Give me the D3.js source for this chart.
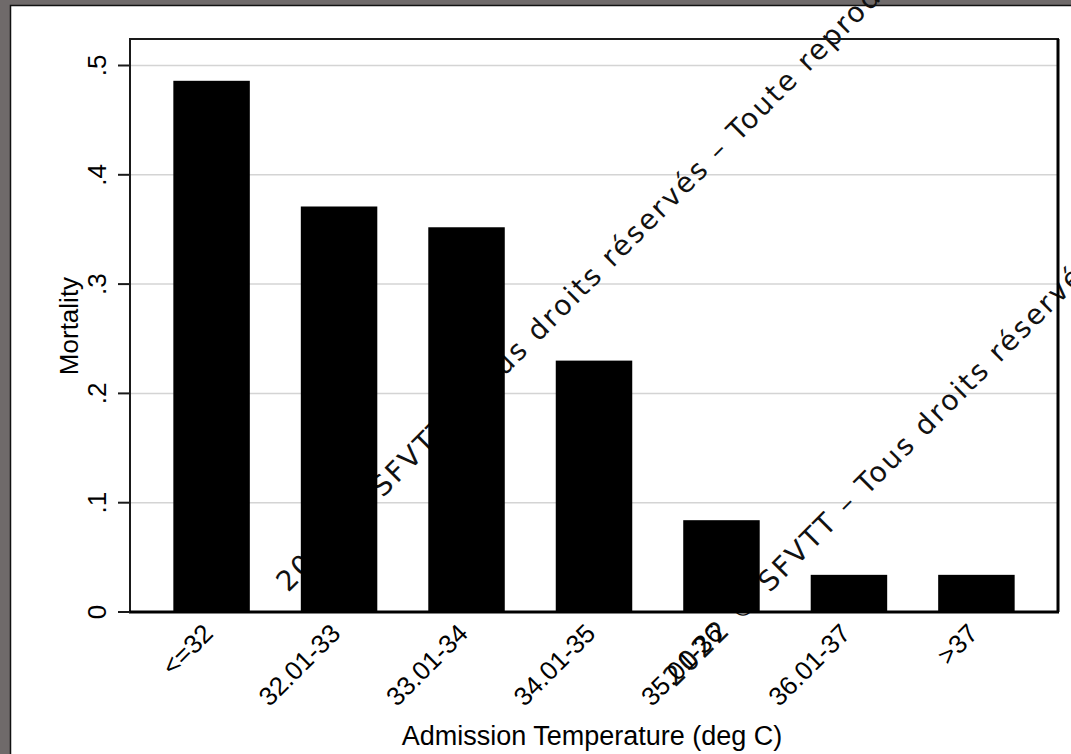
<!DOCTYPE html>
<html>
<head>
<meta charset="utf-8">
<script src="https://cdn.jsdelivr.net/npm/d3@7"></script>
<style>
  body { margin: 0; background: #fff; }
  svg { display: block; }
</style>
</head>
<body>
<svg id="chart" width="1071" height="754"></svg>
<script>
// data
const categories = ["<=32", "32.01-33", "33.01-34", "34.01-35", "35.01-36", "36.01-37", ">37"];
const mortality = [0.486, 0.371, 0.352, 0.230, 0.084, 0.034, 0.034];
const yTicks = [0, 0.1, 0.2, 0.3, 0.4, 0.5];
const yTickLabels = ["0", ".1", ".2", ".3", ".4", ".5"];
const watermark = "2022 \u00A9 SFVTT \u2013 Tous droits r\u00E9serv\u00E9s \u2013 Toute reproduction interdite";

const width = 1071, height = 754,
  margin = {top: 39, right: 13, bottom: 142, left: 130},
  plotW = width - margin.left - margin.right,
  plotH = height - margin.top - margin.bottom;

const svg = d3.select('#chart');

// outer grey frame, only top and left show in the crop
svg.append('rect')
  .attr('width', width).attr('height', height)
  .style('fill', '#6f6a6a');
svg.append('rect')
  .attr('x', 10.5).attr('y', 5.5)
  .attr('width', width + 10).attr('height', height + 10)
  .style('fill', '#fff')
  .style('stroke', '#111')
  .style('stroke-width', 1.5);

const g = svg.append('g')
  .attr('transform', 'translate(' + margin.left + ',' + margin.top + ')');

const xScale = d3.scaleBand()
  .domain(categories)
  .range([0, plotW])
  .paddingInner(0.4)
  .paddingOuter(0.34);

const yScale = d3.scaleLinear()
  .domain([0, 0.5])
  .range([plotH, 26.5]);

// gridlines
g.selectAll('.grid')
  .data(yTicks.filter(d => d > 0))
  .enter()
  .append('line')
    .attr('x1', 0).attr('x2', plotW)
    .attr('y1', d => yScale(d)).attr('y2', d => yScale(d))
    .style('stroke', '#d4d4d4')
    .style('stroke-width', 1.5);

// watermark lines, drawn before the bars so the bars hide parts of them
const wm = [[288, 593], [675, 688]];
g.append('g')
  .attr('transform', 'translate(' + (-margin.left) + ',' + (-margin.top) + ')')
  .selectAll('text')
  .data(wm)
  .enter()
  .append('text')
    .attr('transform', d => 'translate(' + d[0] + ',' + d[1] + ') rotate(-45)')
    .attr('font-family', 'DejaVu Sans')
    .attr('font-size', 28)
    .attr('letter-spacing', 2.4)
    .style('fill', '#111')
    .text(watermark);

// bars
g.selectAll('.bar')
  .data(mortality)
  .enter()
  .append('rect')
    .attr('x', (d, i) => xScale(categories[i]))
    .attr('y', d => yScale(d))
    .attr('width', xScale.bandwidth())
    .attr('height', d => plotH - yScale(d))
    .style('fill', '#000');

// plot frame
g.append('rect')
  .attr('width', plotW).attr('height', plotH)
  .style('fill', 'none')
  .style('stroke', '#1a1a1a')
  .style('stroke-width', 2);
g.append('line')
  .attr('x1', -1).attr('x2', plotW + 1)
  .attr('y1', plotH).attr('y2', plotH)
  .style('stroke', '#000').style('stroke-width', 3);
g.append('line')
  .attr('x1', plotW).attr('x2', plotW)
  .attr('y1', 0).attr('y2', plotH)
  .style('stroke', '#000').style('stroke-width', 3);

// y axis ticks and labels
g.selectAll('.ytick')
  .data(yTicks)
  .enter()
  .append('line')
    .attr('x1', -12).attr('x2', 0)
    .attr('y1', d => yScale(d)).attr('y2', d => yScale(d))
    .style('stroke', '#1a1a1a')
    .style('stroke-width', 2);

g.selectAll('.ylab')
  .data(yTicks)
  .enter()
  .append('text')
    .attr('transform', d => 'translate(-24,' + yScale(d) + ') rotate(-90)')
    .attr('text-anchor', 'middle')
    .attr('font-family', 'Liberation Sans, Arial')
    .attr('font-size', 26)
    .style('fill', '#000')
    .text((d, i) => yTickLabels[i]);

// x labels
g.selectAll('.xlab')
  .data(categories)
  .enter()
  .append('text')
    .attr('transform', d => 'translate(' + (xScale(d) + xScale.bandwidth() / 2 + 3) + ',' + (plotH + 23) + ') rotate(-45)')
    .attr('text-anchor', 'end')
    .attr('font-family', 'Liberation Sans, Arial')
    .attr('font-size', 26)
    .style('fill', '#000')
    .text(d => d);

// axis titles
svg.append('text')
  .attr('transform', 'translate(78,' + 326 + ') rotate(-90)')
  .attr('text-anchor', 'middle')
  .attr('font-family', 'Liberation Sans, Arial')
  .attr('font-size', 26)
  .style('fill', '#000')
  .text('Mortality');

svg.append('text')
  .attr('x', 592)
  .attr('y', 745)
  .attr('text-anchor', 'middle')
  .attr('font-family', 'Liberation Sans, Arial')
  .attr('font-size', 27)
  .style('fill', '#000')
  .text('Admission Temperature (deg C)');
</script>
</body>
</html>
